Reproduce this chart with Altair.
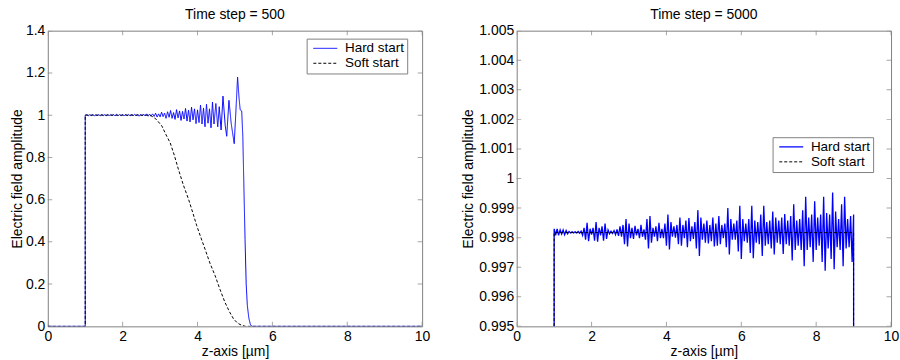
import altair as alt
import pandas as pd

FONT = "Liberation Sans"
SERIES = ["Hard start", "Soft start"]
COLORS = ["#0000ff", "#000000"]
DASHES = [[1, 0], [3, 2]]
FRAME = "#808080"

X_TICKS = [0, 2, 4, 6, 8, 10]
L_Y_TICKS = [0, 0.2, 0.4, 0.6, 0.8, 1.0, 1.2, 1.4]
R_Y_TICKS = [0.995, 0.996, 0.997, 0.998, 0.999, 1.0, 1.001, 1.002, 1.003, 1.004, 1.005]

# ---------------- Left panel: time step = 500 ----------------
L_HARD_LEAD_X = [0.0, 1.0]
L_HARD_LEAD_Y = [0.0, 0.0]
L_HARD_GRID_START = 1.0
L_HARD_GRID_STEP = 0.04
L_HARD_GRID_Y = [
    1.000, 1.003, 0.997, 1.002, 0.998, 1.003, 0.997, 1.001, 0.999, 1.002,
    0.997, 1.003, 0.998, 1.002, 0.997, 1.003, 0.998, 1.002, 0.999, 1.003,
    0.996, 1.004, 0.997, 1.003, 0.997, 1.004, 0.996, 1.004, 0.997, 1.003,
    0.996, 1.005, 0.996, 1.004, 0.997, 1.005, 0.995, 1.004, 0.996, 1.005,
    0.996, 1.006, 0.995, 1.005, 0.996, 1.006,
    0.994, 1.009, 0.991, 1.006, 0.992, 1.014, 0.993, 1.010, 0.985, 1.016,
    0.990, 1.022, 0.985, 1.012, 0.980, 1.026, 0.987, 1.020, 0.975, 1.018,
    0.982, 1.032, 0.972, 1.024, 0.968, 1.038, 0.978, 1.030, 0.960, 1.025,
    0.965, 1.048, 0.958, 1.034, 0.945, 1.052, 0.962, 1.030, 0.940, 1.062,
    0.958,
]
L_HARD_TAIL_X = [4.49, 4.54, 4.58, 4.63, 4.68, 4.74, 4.78, 4.84, 4.90, 4.98,
                 5.02, 5.07, 5.11, 5.14, 5.18, 5.21, 5.24, 5.27, 5.30, 5.33,
                 5.37, 5.41, 5.45, 10.0]
L_HARD_TAIL_Y = [1.055, 0.945, 1.040, 0.930, 1.090, 0.950, 0.900, 1.070, 0.960, 0.865,
                 1.000, 1.180, 1.080, 1.025, 1.020, 0.900, 0.650, 0.410, 0.200, 0.100,
                 0.040, 0.010, 0.000, 0.000]

L_SOFT_X = [0.0, 1.0, 1.0, 2.70, 2.78, 2.90, 3.05, 3.15, 3.27, 3.38, 3.49, 3.62,
            3.76, 3.87, 3.98, 4.09, 4.20, 4.33, 4.47, 4.60, 4.73, 4.85, 4.96,
            5.07, 5.18, 5.28, 10.0]
L_SOFT_Y = [0.0, 0.0, 1.0, 1.000, 0.995, 0.980, 0.948, 0.910, 0.869, 0.810, 0.743, 0.670,
            0.602, 0.540, 0.476, 0.420, 0.366, 0.300, 0.240, 0.175, 0.115, 0.070, 0.036,
            0.015, 0.005, 0.000, 0.000]

# ---------------- Right panel: time step = 5000 ----------------
R_HARD_LEAD_X = [1.0]
R_HARD_LEAD_Y = [0.994]
R_HARD_GRID_START = 1.0
R_HARD_GRID_STEP = 0.04
R_HARD_GRID_Y = [
    0.99830, 0.99808, 0.99830, 0.99808, 0.99826, 0.99812, 0.99826, 0.99810, 0.99824, 0.99813,
    0.99821, 0.99816, 0.99820, 0.99816, 0.99820, 0.99816, 0.99821, 0.99815, 0.99822, 0.99808,
    0.99833, 0.99793, 0.99850, 0.99788, 0.99830, 0.99810, 0.99833, 0.99790, 0.99853, 0.99786,
    0.99833, 0.99808, 0.99838, 0.99790, 0.99848, 0.99796, 0.99826, 0.99813, 0.99822, 0.99814,
    0.99824, 0.99810, 0.99828, 0.99806, 0.99838, 0.99803, 0.99843, 0.99778, 0.99863, 0.99770,
    0.99848, 0.99798, 0.99833, 0.99796, 0.99840, 0.99808, 0.99830, 0.99798, 0.99843, 0.99803,
    0.99828, 0.99793, 0.99863, 0.99763, 0.99873, 0.99783, 0.99833, 0.99803, 0.99838, 0.99788,
    0.99850, 0.99798, 0.99830, 0.99798, 0.99848, 0.99773, 0.99878, 0.99760, 0.99853, 0.99803,
    0.99838, 0.99800, 0.99843, 0.99778, 0.99868, 0.99773, 0.99843, 0.99798, 0.99858, 0.99768,
    0.99866, 0.99788, 0.99838, 0.99796, 0.99853, 0.99763, 0.99893, 0.99738, 0.99868, 0.99793,
    0.99848, 0.99783, 0.99858, 0.99780, 0.99843, 0.99788, 0.99868, 0.99770, 0.99848, 0.99773,
    0.99873, 0.99778, 0.99843, 0.99798, 0.99848, 0.99768, 0.99900, 0.99743, 0.99863, 0.99793,
    0.99848, 0.99793, 0.99858, 0.99753, 0.99908, 0.99728, 0.99863, 0.99788, 0.99848, 0.99783,
    0.99863, 0.99748, 0.99908, 0.99730, 0.99858, 0.99783, 0.99853, 0.99778, 0.99878, 0.99738,
    0.99908, 0.99773, 0.99853, 0.99778, 0.99858, 0.99763, 0.99888, 0.99743, 0.99868, 0.99783,
    0.99858, 0.99778, 0.99868, 0.99745, 0.99880, 0.99778, 0.99858, 0.99773, 0.99873, 0.99723,
    0.99913, 0.99758, 0.99858, 0.99773, 0.99863, 0.99758, 0.99893, 0.99703, 0.99938, 0.99758,
    0.99868, 0.99768, 0.99878, 0.99718, 0.99923, 0.99758, 0.99868, 0.99773, 0.99878, 0.99718,
    0.99938, 0.99688, 0.99883, 0.99763, 0.99878, 0.99728, 0.99953, 0.99693, 0.99888, 0.99768,
    0.99863, 0.99758, 0.99913, 0.99703, 0.99938, 0.99763, 0.99863, 0.99768, 0.99873, 0.99718,
    0.99878,
]
R_HARD_TAIL_X = [9.0]
R_HARD_TAIL_Y = [0.994]

R_SOFT_X = [1.0, 1.0, 9.0, 9.0]
R_SOFT_Y = [0.994, 0.99817, 0.99817, 0.994]


def grid_x(start, step, n):
    return [round(start + step * i, 4) for i in range(n)]


def series_frame(name, xs, ys):
    return pd.DataFrame({"x": xs, "y": ys, "series": name, "idx": list(range(len(xs)))})


left_hard_x = L_HARD_LEAD_X + grid_x(L_HARD_GRID_START, L_HARD_GRID_STEP, len(L_HARD_GRID_Y)) + L_HARD_TAIL_X
left_hard_y = L_HARD_LEAD_Y + L_HARD_GRID_Y + L_HARD_TAIL_Y
left_df = pd.concat([
    series_frame("Hard start", left_hard_x, left_hard_y),
    series_frame("Soft start", L_SOFT_X, L_SOFT_Y),
])

right_hard_x = R_HARD_LEAD_X + grid_x(R_HARD_GRID_START, R_HARD_GRID_STEP, len(R_HARD_GRID_Y)) + R_HARD_TAIL_X
right_hard_y = R_HARD_LEAD_Y + R_HARD_GRID_Y + R_HARD_TAIL_Y
right_df = pd.concat([
    series_frame("Hard start", right_hard_x, right_hard_y),
    series_frame("Soft start", R_SOFT_X, R_SOFT_Y),
])


def panel(df, title, y_dom, y_ticks, y_fmt, y_extent, legend_x, legend_y, hard_width):
    xscale = alt.Scale(domain=[0, 10], nice=False, zero=False)
    yscale = alt.Scale(domain=y_dom, nice=False, zero=False)
    xaxis = alt.Axis(values=X_TICKS, format="d", title="z-axis [µm]", labelFlush=False,
                     labelPadding=3, titlePadding=1)
    yaxis = alt.Axis(values=y_ticks, format=y_fmt, title="Electric field amplitude",
                     labelFlush=False, labelPadding=3, titlePadding=1,
                     minExtent=y_extent, maxExtent=y_extent)
    leg = alt.Legend(
        title=None, orient="none", legendX=legend_x, legendY=legend_y,
        symbolType="M-0.75,0H5.25", symbolSize=64, symbolStrokeWidth=1,
        labelFont=FONT, labelFontSize=13.5, labelColor="black", labelOffset=22,
        strokeColor=FRAME, fillColor="white", padding=3, rowPadding=0,
    )
    lines = alt.Chart(df).mark_line(clip=True).encode(
        x=alt.X("x:Q", scale=xscale, axis=xaxis),
        y=alt.Y("y:Q", scale=yscale, axis=yaxis),
        color=alt.Color("series:N", scale=alt.Scale(domain=SERIES, range=COLORS), legend=leg),
        strokeDash=alt.StrokeDash("series:N", scale=alt.Scale(domain=SERIES, range=DASHES), legend=leg),
        strokeWidth=alt.StrokeWidth("series:N", scale=alt.Scale(domain=SERIES, range=[hard_width, 1]),
                                    legend=None),
        order=alt.Order("idx:Q"),
    )
    xt = pd.DataFrame({"v": X_TICKS})
    yt = pd.DataFrame({"v": y_ticks})
    tick_style = dict(color=FRAME, size=9, thickness=1, clip=True)
    ticks = []
    for yd in y_dom:
        ticks.append(alt.Chart(xt).mark_tick(orient="vertical", **tick_style).encode(
            x=alt.X("v:Q", scale=xscale, axis=xaxis),
            y=alt.datum(yd, scale=yscale, axis=yaxis)))
    for xd in [0, 10]:
        ticks.append(alt.Chart(yt).mark_tick(orient="horizontal", **tick_style).encode(
            y=alt.Y("v:Q", scale=yscale, axis=yaxis),
            x=alt.datum(xd, scale=xscale, axis=xaxis)))
    return alt.layer(lines, *ticks).properties(
        width=376, height=297,
        title=alt.TitleParams(title, font=FONT, fontSize=14, fontWeight="normal",
                              color="black", anchor="middle", frame="group", offset=2),
    )


left = panel(left_df, "Time step = 500", [0, 1.4], L_Y_TICKS, ".1~f", 22, 260, 8, 1)
right = panel(right_df, "Time step = 5000", [0.995, 1.005], R_Y_TICKS, ".3~f", 40, 257, 107, 1.3)

chart = alt.hconcat(left, right, spacing=30).resolve_scale(
    color="independent", strokeDash="independent", strokeWidth="independent",
).resolve_legend(
    color="independent", strokeDash="independent", strokeWidth="independent",
).properties(
    padding={"left": 10, "right": 0, "top": 6, "bottom": 2},
    background="white",
).configure_view(stroke=FRAME, strokeWidth=1).configure_axis(
    domain=False, ticks=False, grid=False,
    labelFont=FONT, labelFontSize=14, labelColor="black",
    titleFont=FONT, titleFontSize=14, titleColor="black", titleFontWeight="normal",
)

chart.save("out.html", embed_options={"renderer": "svg", "actions": False})
